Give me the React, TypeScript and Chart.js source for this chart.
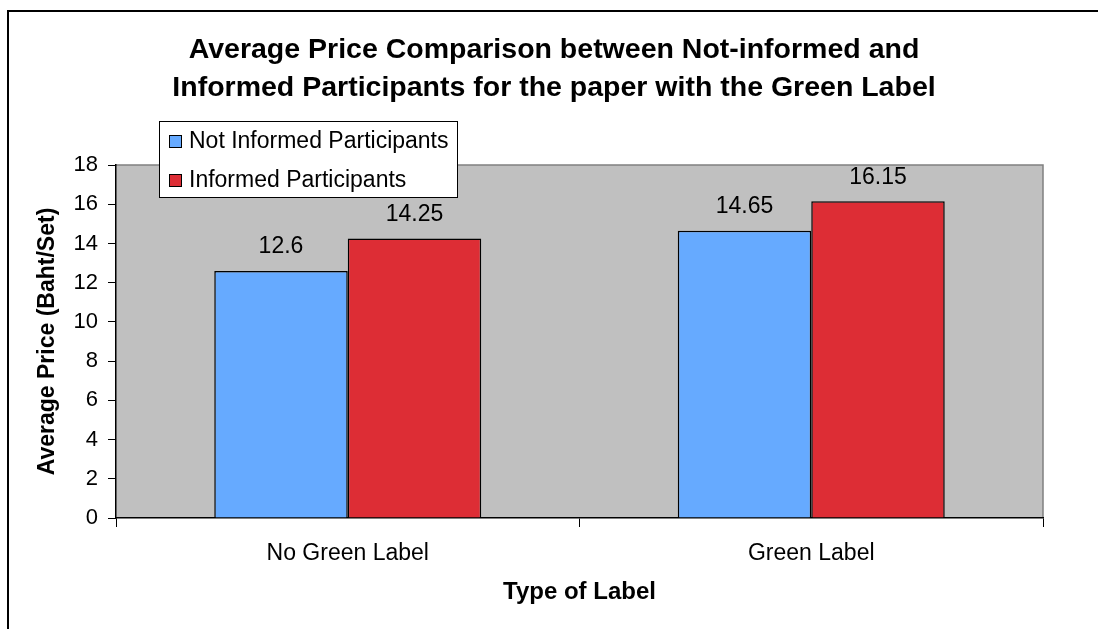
import React, { useEffect, useRef } from "react";
import { Chart, registerables } from "chart.js";

Chart.register(...registerables);

const categories = ["No Green Label", "Green Label"];
const seriesNames = ["Not Informed Participants", "Informed Participants"];
const notInformed = [12.6, 14.65];
const informed = [14.25, 16.15];
const seriesColors = ["#66AAFF", "#DD2D35"];
const titleLines = [
  "Average Price Comparison between Not-informed and",
  "Informed Participants for the paper with the Green Label",
];
const xTitle = "Type of Label";
const yTitle = "Average Price (Baht/Set)";

const FONT = "'Liberation Sans', Arial, sans-serif";

const framePlugin = {
  id: "framePlugin",
  beforeDraw(chart: any) {
    const { ctx, chartArea } = chart;
    ctx.save();
    ctx.strokeStyle = "#000";
    ctx.lineWidth = 2;
    ctx.beginPath();
    ctx.moveTo(8, chart.height + 5);
    ctx.lineTo(8, 11);
    ctx.lineTo(chart.width + 5, 11);
    ctx.stroke();
    ctx.fillStyle = "#C0C0C0";
    ctx.fillRect(chartArea.left, chartArea.top, chartArea.right - chartArea.left, chartArea.bottom - chartArea.top);
    ctx.strokeStyle = "#808080";
    ctx.lineWidth = 1.5;
    ctx.beginPath();
    ctx.moveTo(chartArea.left, chartArea.top);
    ctx.lineTo(chartArea.right, chartArea.top);
    ctx.lineTo(chartArea.right, chartArea.bottom);
    ctx.stroke();
    ctx.restore();
  },
};

const labelsPlugin = {
  id: "labelsPlugin",
  afterDatasetsDraw(chart: any) {
    const { ctx } = chart;
    ctx.save();
    ctx.fillStyle = "#000";
    ctx.font = `23px ${FONT}`;
    ctx.textAlign = "center";
    ctx.textBaseline = "middle";
    chart.data.datasets.forEach((ds: any, i: number) => {
      const meta = chart.getDatasetMeta(i);
      meta.data.forEach((bar: any, j: number) => {
        ctx.fillText(String(ds.data[j]), bar.x, bar.y - 24);
      });
    });
    ctx.restore();
  },
};

const legendPlugin = {
  id: "customLegend",
  afterDraw(chart: any) {
    const { ctx } = chart;
    ctx.save();
    const x = 159.5, y = 121.5, w = 298, h = 76;
    ctx.fillStyle = "#fff";
    ctx.fillRect(x, y, w, h);
    ctx.strokeStyle = "#000";
    ctx.lineWidth = 1;
    ctx.strokeRect(x, y, w, h);
    ctx.font = `23px ${FONT}`;
    ctx.textBaseline = "middle";
    ctx.textAlign = "left";
    const rows = [141, 180];
    seriesNames.forEach((name, i) => {
      const cy = rows[i];
      ctx.fillStyle = seriesColors[i];
      ctx.fillRect(169, cy - 6, 12, 12);
      ctx.strokeRect(169.5, cy - 5.5, 12, 12);
      ctx.fillStyle = "#000";
      ctx.fillText(name, 189, cy + 1);
    });
    ctx.restore();
  },
};

export default function App() {
  const ref = useRef<HTMLCanvasElement>(null);
  useEffect(() => {
    document.body.style.margin = "0";
    const chart = new Chart(ref.current!, {
      type: "bar",
      data: {
        labels: categories,
        datasets: [
          {
            label: seriesNames[0],
            data: notInformed,
            backgroundColor: seriesColors[0],
            borderColor: "#000",
            borderWidth: 1.5,
          },
          {
            label: seriesNames[1],
            data: informed,
            backgroundColor: seriesColors[1],
            borderColor: "#000",
            borderWidth: 1.5,
          },
        ],
      },
      options: {
        responsive: false,
        animation: false,
        layout: { padding: { left: 10, right: 0, top: 0, bottom: 0 } },
        datasets: { bar: { categoryPercentage: 0.576, barPercentage: 1 } } as any,
        plugins: {
          legend: { display: false },
          tooltip: { enabled: false },
          title: {
            display: true,
            text: titleLines,
            color: "#000",
            font: { family: FONT, size: 28.5, weight: "bold", lineHeight: 38 / 28.5 },
            padding: { top: 31, bottom: 58 },
          },
        },
        scales: {
          x: {
            afterFit: (s: any) => { s.height = 111; },
            grid: { display: true, drawOnChartArea: false, drawTicks: true, tickLength: 9, color: "#000", offset: true },
            border: { display: true, color: "#000", width: 1.5 },
            ticks: { color: "#000", font: { family: FONT, size: 23 }, padding: 13 },
            title: {
              display: true,
              text: xTitle,
              color: "#000",
              font: { family: FONT, size: 24, weight: "bold", lineHeight: 1.2 },
              padding: { top: 0, bottom: 22 },
            },
          },
          y: {
            min: 0,
            max: 18,
            afterFit: (s: any) => { s.width = 106; },
            grid: { display: true, drawOnChartArea: false, drawTicks: true, tickLength: 8, color: "#000" },
            border: { display: true, color: "#000", width: 1.5 },
            ticks: { stepSize: 2, color: "#000", font: { family: FONT, size: 22 }, padding: 10 },
            title: {
              display: true,
              text: yTitle,
              color: "#000",
              font: { family: FONT, size: 23, weight: "bold", lineHeight: 1.2 },
              padding: { top: 24, bottom: 0 },
            },
          },
          yRight: {
            position: "right",
            display: true,
            afterFit: (s: any) => { s.width = 55; },
            grid: { display: false },
            border: { display: false },
            ticks: { display: false },
          },
        },
      },
      plugins: [framePlugin, labelsPlugin, legendPlugin],
    });
    return () => chart.destroy();
  }, []);
  return (
    <div style={{ width: 1098, height: 629 }}>
      <canvas ref={ref} width={1098} height={629} />
    </div>
  );
}
